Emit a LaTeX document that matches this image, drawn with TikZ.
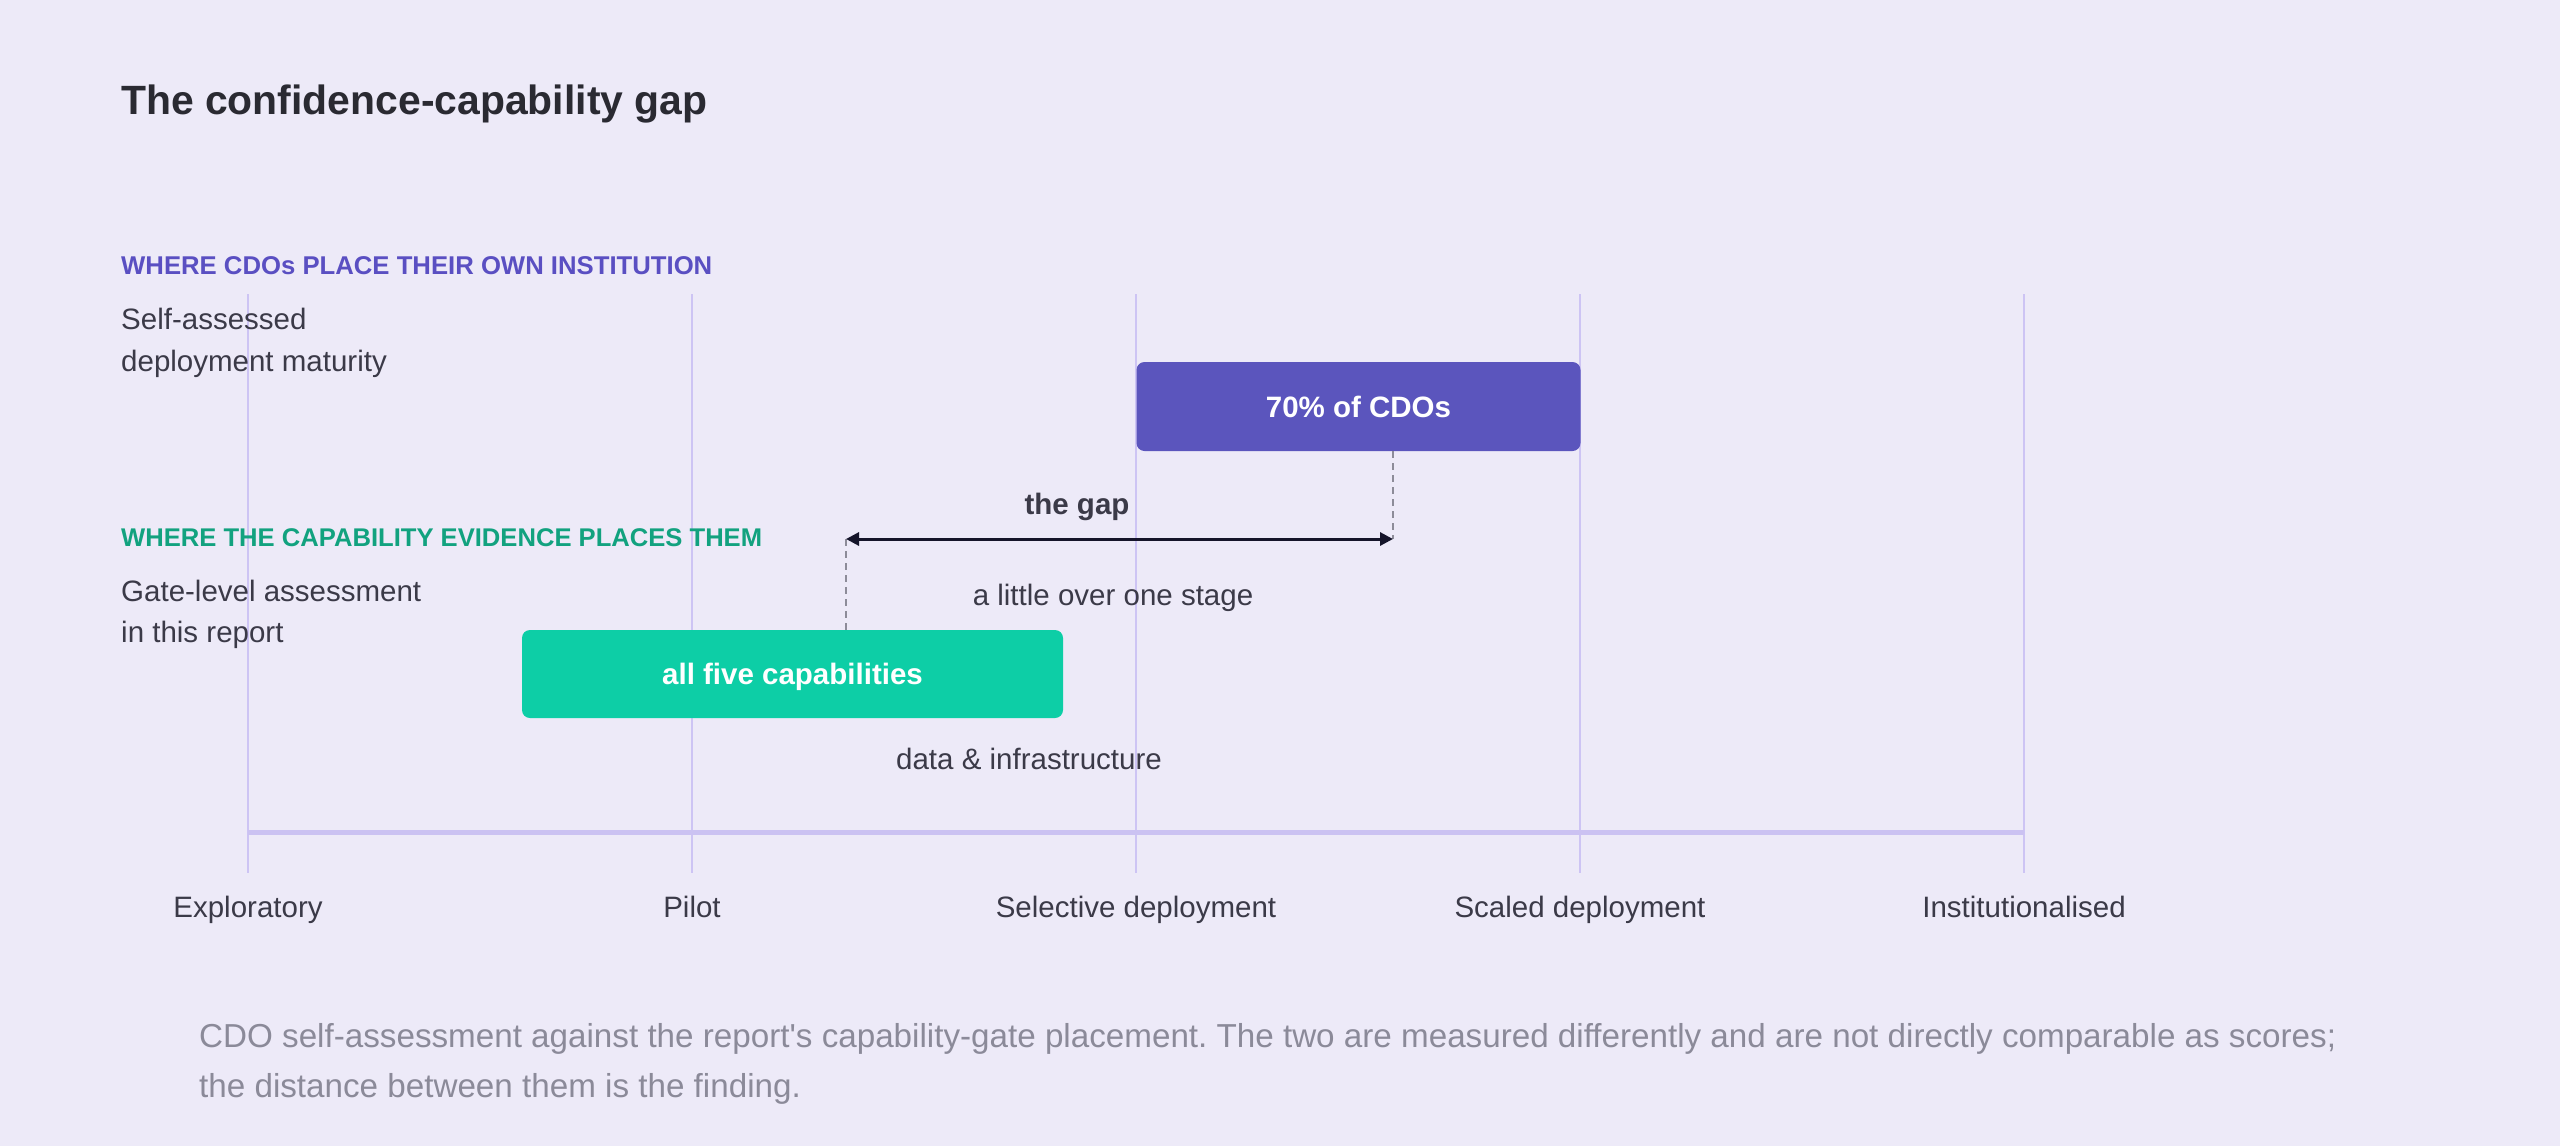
\documentclass[tikz,border=0pt]{standalone}
\usepackage{fontspec}
\setmainfont{Liberation Sans}
\usetikzlibrary{arrows.meta}
\definecolor{bgc}{HTML}{EDEAF8}
\definecolor{titlec}{HTML}{2A2A32}
\definecolor{bodyc}{HTML}{3B3A48}
\definecolor{capc}{HTML}{8B8A99}
\definecolor{purplec}{HTML}{5A4FC2}
\definecolor{purplebox}{HTML}{5B55BD}
\definecolor{greenc}{HTML}{12A27F}
\definecolor{greenbox}{HTML}{0DCEA6}
\definecolor{gridc}{HTML}{CDC4F4}
\definecolor{axisc}{HTML}{CBC2F2}
\definecolor{dashc}{HTML}{8D8C99}
\definecolor{arrowc}{HTML}{15142A}
\frenchspacing
\tikzset{
  titletext/.style={anchor=base west, inner sep=0pt, text=titlec, font=\fontsize{40.9}{48}\selectfont\bfseries},
  headp/.style={anchor=base west, inner sep=0pt, text=purplec, font=\fontsize{25.7}{30}\selectfont\bfseries},
  headg/.style={anchor=base west, inner sep=0pt, text=greenc, font=\fontsize{25.6}{30}\selectfont\bfseries},
  bodytext/.style={anchor=base west, inner sep=0pt, text=bodyc, font=\fontsize{29.5}{35}\selectfont},
  midtext/.style={anchor=base, inner sep=0pt, text=bodyc, font=\fontsize{29.5}{35}\selectfont},
  gaptext/.style={anchor=base, inner sep=0pt, text=bodyc, font=\fontsize{29.5}{35}\selectfont\bfseries},
  captext/.style={anchor=base west, inner sep=0pt, text=capc, font=\fontsize{33.2}{40}\selectfont},
  gridline/.style={draw=gridc, line width=2.5pt},
  axisline/.style={draw=axisc, line width=5pt},
  barbox/.style={inner sep=0pt, rounded corners=8pt, text=white,
    font=\fontsize{29.5}{35}\selectfont\bfseries, text height=21pt, text depth=0pt},
  dashline/.style={draw=dashc, line width=2pt, dash pattern=on 7pt off 5pt},
  gaparrow/.style={draw=arrowc, line width=3pt, {Triangle[length=13pt,width=13pt]}-{Triangle[length=13pt,width=13pt]}},
}
\begin{document}
\begin{tikzpicture}[x=1pt,y=-1pt]
\fill[bgc] (0,0) rectangle (2560,1146);
\useasboundingbox (0,0) rectangle (2560,1146);

% grid lines and stage labels
\foreach \i/\x/\lab in {1/248/Exploratory, 2/692/Pilot, 3/1136/Selective deployment, 4/1580/Scaled deployment, 5/2024/Institutionalised}{
  \coordinate (gt\i) at (\x,294);
  \coordinate (gb\i) at (\x,873);
  \draw[gridline] (gt\i) -- (gb\i);
  \node[midtext] (stage\i) at (\x,917) {\lab};
}
\coordinate (axL) at (248,832);
\coordinate (axR) at (2024,832);
\draw[axisline] (axL) -- (axR);

% title
\node[titletext] (title) at (121,114) {The confidence-capability gap};

% row headings
\node[headp] (headCDO) at (121,274) {WHERE CDOs PLACE THEIR OWN INSTITUTION};
\node[bodytext] (self1) at (121,329) {Self-assessed};
\node[bodytext] (self2) at (121,371) {deployment maturity};

\node[headg] (headCAP) at (121,546) {WHERE THE CAPABILITY EVIDENCE PLACES THEM};
\node[bodytext] (gate1) at (121,601) {Gate-level assessment};
\node[bodytext] (gate2) at (121,642) {in this report};

% bars
\node[barbox, fill=purplebox, minimum width=444pt, minimum height=89pt] (cdo) at (1358.5,406.5) {70\% of CDOs};
\node[barbox, fill=greenbox, minimum width=541pt, minimum height=88pt] (cap) at (792.5,674) {all five capabilities};

% gap arrow
\coordinate (gapL) at (846,539);
\coordinate (gapR) at (1393,539);
\draw[dashline] (cdo.south -| gapR) -- (gapR);
\draw[dashline] (gapL) -- (gapL |- cap.north);
\draw[gaparrow] (gapL) -- (gapR);
\node[gaptext] (gaplab) at (1077,514) {the gap};
\node[midtext] (gapsub) at (1113,605) {a little over one stage};
\node[midtext] (infra) at (1029,769) {data \& infrastructure};

% caption
\node[captext] (cap1) at (199,1047) {CDO self-assessment against the report\textquotesingle s capability-gate placement. The two are measured differently and are not directly comparable as scores;};
\node[captext] (cap2) at (199,1097) {the distance between them is the finding.};
\end{tikzpicture}
\end{document}
